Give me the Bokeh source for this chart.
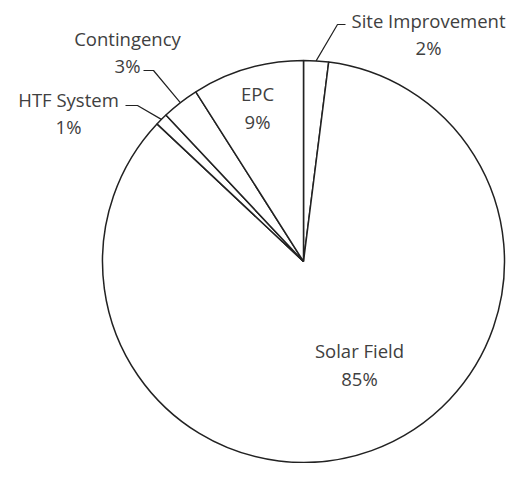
import math
from bokeh.plotting import figure
from bokeh.models import Range1d
from bokeh.core.properties import value
from bokeh.embed import file_html
from bokeh.resources import INLINE

# Data (clockwise from 12 o'clock)
categories = ["Site Improvement", "Solar Field", "HTF System", "Contingency", "EPC"]
shares = [2, 85, 1, 3, 9]
pct_labels = ["2%", "85%", "1%", "3%", "9%"]

W, H = 508, 463
Y0 = 479  # screen-y reference: data y = Y0 - screen y
p = figure(width=W, height=H, output_backend="svg", toolbar_location=None,
           x_range=Range1d(0, W), y_range=Range1d(Y0 - H, Y0),
           min_border=0, outline_line_color=None)
p.axis.visible = False
p.grid.visible = False

cx, cy, r = 303, Y0 - 261, 201

total = sum(shares)
starts, ends, mids = [], [], []
acc = 0.0
for s in shares:
    a0 = math.pi / 2 - 2 * math.pi * acc / total
    acc += s
    a1 = math.pi / 2 - 2 * math.pi * acc / total
    starts.append(a0)
    ends.append(a1)
    mids.append((a0 + a1) / 2)

p.wedge(x=[cx] * len(shares), y=[cy] * len(shares), radius=r,
        start_angle=starts, end_angle=ends, direction="clock",
        fill_color="white", line_color="#222222", line_width=1.5)

font = value("Open Sans")
tcol = "#404040"
fs = "18.5px"

# label positions (screen px: x, name line y, pct line y)
label_pos = {
    "Site Improvement": (428, 20, 47),
    "Solar Field": (359, 350, 378),
    "HTF System": (68, 99, 126),
    "Contingency": (127, 38, 65),
    "EPC": (257, 93, 121),
}
xs, ys, txt = [], [], []
for c, pl in zip(categories, pct_labels):
    x, y1, y2 = label_pos[c]
    xs += [x, x]
    ys += [Y0 - y1, Y0 - y2]
    txt += [c, pl]
p.text(x=xs, y=ys, text=txt, text_font=font, text_font_size=fs,
       text_color=tcol, text_align="center", text_baseline="middle")

# leader lines: (slice index) -> horizontal segment in screen px
leaders = {
    0: ((345, 24), (337, 24)),
    3: ((143, 70), (153, 70)),
    2: ((125, 105), (137, 105)),
}
for i, ((x0, y0), (x1, y1)) in leaders.items():
    ex = cx + r * math.cos(mids[i])
    ey = cy + r * math.sin(mids[i])
    p.line(x=[x0, x1, ex], y=[Y0 - y0, Y0 - y1, ey],
           line_color="#222222", line_width=1.2)

open("out.html", "w").write(file_html(p, INLINE))
